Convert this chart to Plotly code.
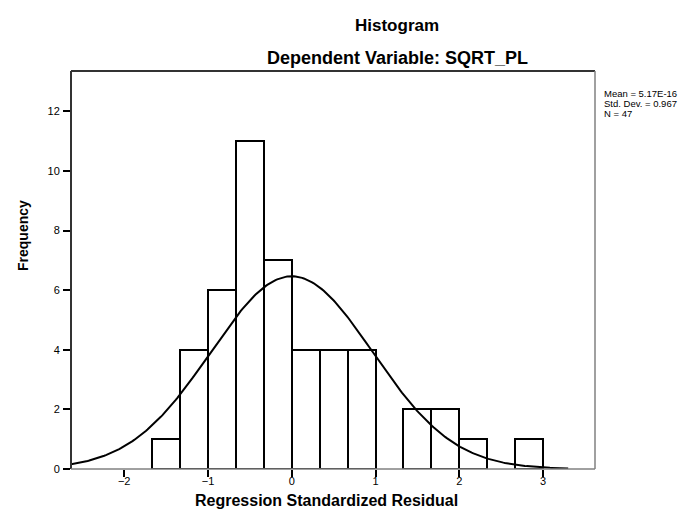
import numpy as np
import plotly.graph_objects as go

# ---- data ----
bin_left_edges = [-5/3, -4/3, -1.0, -2/3, -1/3, 0.0, 1/3, 2/3, 1.0, 4/3, 5/3, 2.0, 7/3, 8/3]
frequencies    = [1, 4, 6, 11, 7, 4, 4, 4, 0, 2, 2, 1, 0, 1]
bin_width = 1/3
stat_mean = 5.17e-16
stat_sd = 0.967
stat_n = 47
x_tick_vals = [-2, -1, 0, 1, 2, 3]
y_tick_vals = [0, 2, 4, 6, 8, 10, 12]
stats_lines = ["Mean = 5.17E-16", "Std. Dev. = 0.967", "N = 47"]

FONT = "Liberation Sans, Arial, sans-serif"

# figure / plot geometry (pixels)
W, H = 699, 510
L, R, T, B = 63, 587, 63, 461
x_range = [-2.635, 3.62]
y_range = [0, 13.35]

def px_x(p):
    return (p - L) / (R - L)

def px_y(p):
    return (B - p) / (B - T)

fig = go.Figure()

# bars (skip empty bins)
bx = [e + bin_width / 2 for e, f in zip(bin_left_edges, frequencies) if f > 0]
by = [f for f in frequencies if f > 0]
fig.add_trace(go.Bar(
    x=bx, y=by, width=bin_width,
    marker=dict(color="white", line=dict(color="black", width=2)),
    hoverinfo="x+y", showlegend=False,
))

# normal curve from the displayed statistics
cx = np.linspace(x_range[0], 3.3, 300)
cy = stat_n * bin_width / (stat_sd * np.sqrt(2 * np.pi)) * np.exp(-0.5 * ((cx - stat_mean) / stat_sd) ** 2)
fig.add_trace(go.Scatter(x=cx, y=cy, mode="lines",
                         line=dict(color="black", width=2), showlegend=False,
                         hoverinfo="skip"))

# frame
shapes = [
    dict(type="line", xref="paper", yref="paper", x0=0, x1=0, y0=0, y1=1,
         line=dict(color="#333333", width=2)),
    dict(type="line", xref="paper", yref="paper", x0=0, x1=1, y0=1, y1=1,
         line=dict(color="#333333", width=2)),
    dict(type="line", xref="paper", yref="paper", x0=1, x1=1, y0=0, y1=1,
         line=dict(color="#808080", width=1.5)),
    dict(type="line", xref="paper", yref="paper", x0=0, x1=1, y0=0, y1=0,
         line=dict(color="#808080", width=1.5)),
]

annotations = [
    dict(text="<b>Histogram</b>", xref="paper", yref="paper",
         x=px_x(389), y=px_y(17), showarrow=False,
         font=dict(family=FONT, size=17, color="black"), xanchor="center", yanchor="middle"),
    dict(text="<b>Dependent Variable: SQRT_PL</b>", xref="paper", yref="paper",
         x=px_x(389), y=px_y(50), showarrow=False,
         font=dict(family=FONT, size=18, color="black"), xanchor="center", yanchor="middle"),
    dict(text="<b>Regression Standardized Residual</b>", xref="paper", yref="paper",
         x=px_x(318), y=px_y(493), showarrow=False,
         font=dict(family=FONT, size=16, color="black"), xanchor="center", yanchor="middle"),
    dict(text="<b>Frequency</b>", xref="paper", yref="paper",
         x=px_x(15), y=px_y(228), showarrow=False, textangle=-90,
         font=dict(family=FONT, size=14, color="black"), xanchor="center", yanchor="middle"),
]
for i, line in enumerate(stats_lines):
    annotations.append(dict(text=line, xref="paper", yref="paper",
                             x=px_x(594), y=px_y(86 + 9.5 * i), showarrow=False,
                             font=dict(family=FONT, size=9.5, color="black"),
                             xanchor="left", yanchor="middle"))

fig.update_layout(
    width=W, height=H,
    margin=dict(l=L, r=W - R, t=T, b=H - B, pad=0),
    paper_bgcolor="white", plot_bgcolor="white",
    bargap=0,
    shapes=shapes,
    annotations=annotations,
    xaxis=dict(range=x_range, tickvals=x_tick_vals, ticks="outside", ticklen=7,
               tickwidth=2, tickcolor="black", showgrid=False, zeroline=False,
               showline=False, ticklabelstandoff=-5,
               tickfont=dict(family=FONT, size=11, color="black")),
    yaxis=dict(range=y_range, tickvals=y_tick_vals, ticks="outside", ticklen=7,
               tickwidth=2, tickcolor="black", showgrid=False, zeroline=False,
               showline=False, ticklabelstandoff=1,
               tickfont=dict(family=FONT, size=11, color="black")),
)

fig.write_html("out.html")
